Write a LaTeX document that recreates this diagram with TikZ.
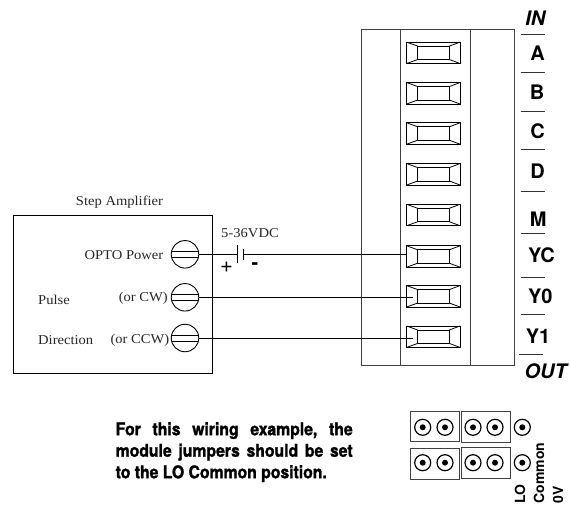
\documentclass[tikz,border=0pt]{standalone}
\usepackage{fontspec}
\setmainfont{Liberation Serif}
\newfontfamily\labfont{TeX Gyre Heros}
\newfontfamily\notefont[FakeStretch=0.9,FakeBold=1.5]{TeX Gyre Heros Bold}
\tikzset{
  x=1pt,y=-1pt,
  blockline/.style={draw=black!75,line width=1pt},
  thin line/.style={draw=black,line width=0.8pt},
  sep/.style={draw=black!80,line width=0.9pt},
  term/.style={font=\labfont\bfseries\fontsize{20}{20}\selectfont,anchor=base east,inner sep=0pt},
  termit/.style={term,font=\labfont\bfseries\itshape\fontsize{20}{20}\selectfont},
  small/.style={font=\addfontfeatures{FakeStretch=1.08}\fontsize{13.5}{15}\selectfont,inner sep=0pt,text=black!85},
  vert/.style={font=\labfont\bfseries\fontsize{14}{14}\selectfont,rotate=90,anchor=base west,inner sep=0pt},
}
\newcommand{\terminal}[2]{%
  \begin{scope}[yshift=-#1pt]
  \draw[thin line] (406.7,-10.7) rectangle (460,10.7);
  \draw[thin line] (417.7,-6.7) rectangle (449.3,6.7);
  \draw[thin line] (406.7,-10.7) -- (417.7,-6.7) (460,-10.7) -- (449.3,-6.7)
                   (406.7,10.7) -- (417.7,6.7) (460,10.7) -- (449.3,6.7);
  \coordinate (#2) at (406.7,0);
  \coordinate (#2i) at (412.7,0);
  \end{scope}}
\newcommand{\screw}[3]{%
  \node[circle,draw=black,line width=0.9pt,minimum size=27.5pt,inner sep=0pt] (#3) at (185,#1) {};
  \draw[thin line] (172,#1-3) -- (198,#1-3) (172,#1+3) -- (198,#1+3);}
\newcommand{\pin}[3]{%
  \node[circle,draw=black,line width=1.2pt,minimum size=16pt,inner sep=0pt] (#3) at (#1,#2) {};
  \fill (#1,#2) circle (3pt);}
\begin{document}
\begin{tikzpicture}
\useasboundingbox (0,0) rectangle (570,506);
% terminal block
\draw[blockline] (361,29) rectangle (514,365.5);
\draw[blockline] (400.7,29) -- (400.7,365.5) (470,29) -- (470,365.5);
\terminal{52.8}{ta}\terminal{93.3}{tb}\terminal{133.5}{tc}\terminal{174.3}{td}
\terminal{215}{tm}\terminal{256.5}{tyc}\terminal{296.3}{tyz}\terminal{336.7}{tyo}
% terminal labels
\node[termit] (lin) at (545.5,25) {IN};
\node[term] (la) at (545,60) {A};
\node[term] (lb) at (544.5,99.3) {B};
\node[term] (lc) at (545,138.3) {C};
\node[term] (ld) at (545,178.3) {D};
\node[term] (lm) at (546.7,226) {M};
\node[term] (lyc) at (555,262.7) {YC};
\node[term] (ly0) at (552.7,303.3) {Y0};
\node[term] (ly1) at (550.5,343.3) {Y1};
\node[termit] (lout) at (567,378.3) {OUT};
\foreach \yy in {34.3,72.7,111.7,149,191,233.3,277.3,314.3}
  \draw[sep] (520.7,\yy) -- (545,\yy);
\draw[sep] (519,354.3) -- (543,354.3);
% amplifier
\draw[thin line] (13.3,215.3) rectangle (212.3,373.7);
\node[small,anchor=base] (title) at (119.5,205) {Step Amplifier};
\screw{254.3}{p}{sp}\screw{297.3}{c}{sc}\screw{338}{d}{sd}
\node[small,anchor=base east] (opto) at (163.5,259) {OPTO Power};
\node[small,anchor=base west] (pulse) at (38,304) {Pulse};
\node[small,anchor=base east] (cw) at (168,301.7) {(or CW)};
\node[small,anchor=base west] (dir) at (38,344) {Direction};
\node[small,anchor=base east] (ccw) at (169.5,343) {(or CCW)};
% battery
\node[small,anchor=base] (v) at (250,237.7) {5-36VDC};
\coordinate (bl) at (237.3,254.3);
\coordinate (br) at (243.7,254.3);
\draw[thin line] (sp.east) -- (bl);
\draw[thin line] (237.3,245) -- (237.3,263.3);
\draw[thin line] (243.7,249) -- (243.7,259.5);
\draw[thin line] (br) -- (br-|tyc);
\node[font=\labfont\fontsize{22}{22}\selectfont,inner sep=0pt] (plus) at (226.5,267) {+};
\node[font=\labfont\bfseries\fontsize{20}{20}\selectfont,inner sep=0pt] (minus) at (255,266) {-};
\draw[thin line] (sc.east) -- (sc.east-|tyzi);
\draw[thin line] (sd.east) -- (sd.east-|tyoi);
% note
\node[font=\notefont\fontsize{17.5}{21.5}\selectfont,align=left,inner sep=0pt,anchor=north west] (note) at (115.5,422)
 {\hbox to 237pt{For\hfill this\hfill wiring\hfill example,\hfill the}\\
  \hbox to 237pt{module\hfill jumpers\hfill should\hfill be\hfill set}\\
  to the LO Common position.};
% jumpers
\draw[blockline] (410,411) rectangle (459.5,441.5);
\draw[blockline] (461,411) rectangle (510,442);
\draw[blockline] (410,448.5) rectangle (459.5,479);
\draw[blockline] (461,447) rectangle (510,478);
\pin{422.7}{427.3}{p1}\pin{445}{427.3}{p2}\pin{473}{427.3}{p3}\pin{495}{427.3}{p4}\pin{522.3}{427.3}{p5}
\pin{422.7}{462.7}{q1}\pin{445}{462.7}{q2}\pin{473}{462.7}{q3}\pin{495}{462.7}{q4}\pin{522.3}{462.7}{q5}
\node[vert] (vlo) at (525,503.5) {LO};
\node[vert] (vco) at (544,503.5) {Common};
\node[vert] (vov) at (563,503.5) {0V};
\end{tikzpicture}
\end{document}
